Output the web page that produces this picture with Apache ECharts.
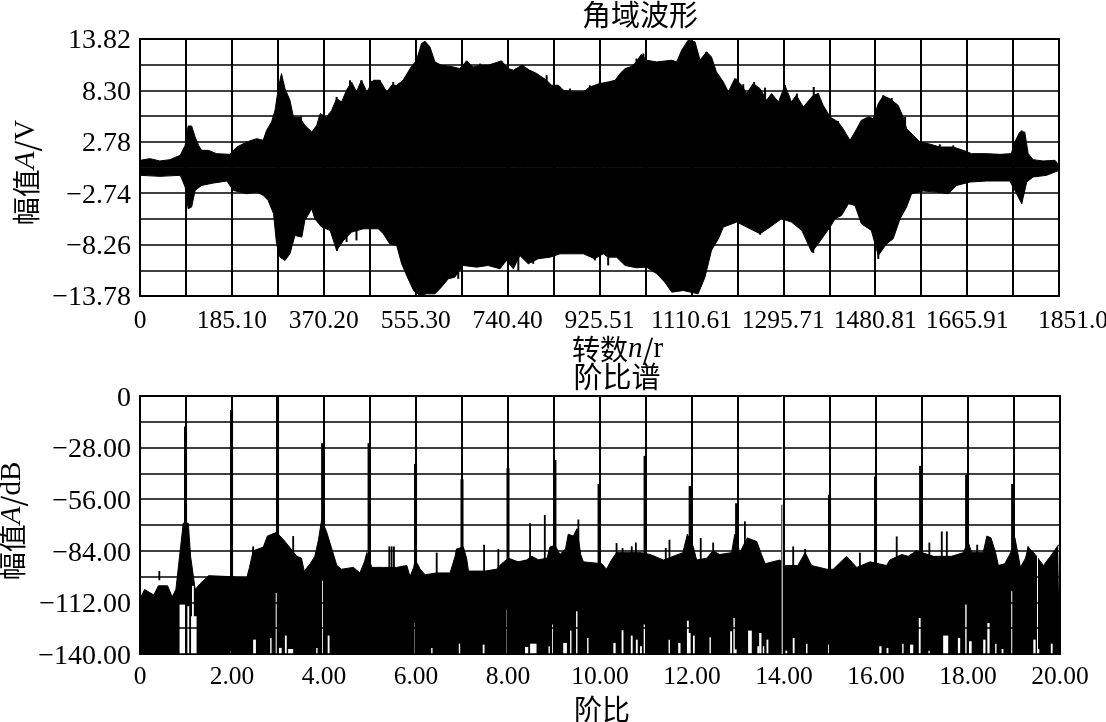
<!DOCTYPE html>
<html><head><meta charset="utf-8">
<style>html,body{margin:0;padding:0;background:#fff}#c{width:1106px;height:722px}</style>
<script src="https://cdn.jsdelivr.net/npm/echarts@6/dist/echarts.min.js"></script>
</head><body><div id="c"></div>
<script>
// Angle-domain waveform: upper and lower envelope
const waveUpperN=[0,20,40,60,81,91,97,104,111,118,124,138,154,181,195,215,235,248,255,265,272,279,285,292,302,309,322,332,346,356,363,376,386,396,406,416,426,436,446,457,470,483,497,507,517,530,544,557,567,574,584,594,607,631,644,658,671,685,701,728,742,752,769,785,799,819,829,843,853,873,893,906,926,943,957,967,977,987,997,1010,1020,1041,1071,1081,1091,1104,1118,1128,1141,1151,1161,1175,1185,1198,1212,1222,1235,1249,1262,1272,1286,1299,1312,1322,1336,1356,1366,1376,1390,1406,1416,1430,1440,1453,1467,1477,1487,1497,1510,1527,1537,1544,1561,1571,1588,1611,1638,1658,1675,1705,1732,1755,1762,1772,1782,1789,1799,1819,1843,1851];
const waveUpperV=[.79,.97,.72,.86,1.33,2.4,4.48,4.48,3.3,2.4,1.86,1.86,1.51,1.43,2.22,2.76,3.12,2.94,4.01,4.91,6.16,8.67,10.11,8.49,7.24,5.45,5.38,4.55,3.83,4.55,5.81,5.38,6.16,7.42,7.06,8.31,9.21,8.14,9.39,8.14,9.39,9.39,8.14,8.85,8.85,9.39,10.64,11.54,13.33,13.58,12.97,11.36,11,10.82,10.64,11.47,10.82,11,11,11.47,10.64,10.47,11,10.47,10.11,9.39,8.85,8.85,8.31,8.14,8.14,8.67,9.03,9.21,9.39,10.11,10.64,10.82,11.18,12.19,11.54,11.36,11.54,11.36,12.62,13.69,13.51,11.54,12.44,11.9,10.29,9.21,8.14,9.57,8.85,7.96,9.03,8.49,7.24,7.96,7.06,8.85,7.06,7.78,6.52,7.78,7.96,6.7,5.45,4.91,4.19,2.94,3.83,5.09,5.45,5.27,6.88,7.71,7.42,6.7,5.45,4.19,3.3,2.76,2.58,2.22,2.22,1.86,1.51,1.51,1.43,1.51,2.76,3.83,3.83,1.51,.86,.72,.79,.25];
const waveLowerN=[0,40,81,84,91,97,104,111,124,148,175,188,215,235,248,258,269,275,282,292,302,312,326,332,346,352,366,383,396,410,426,450,480,490,503,517,527,540,551,564,577,594,607,621,634,651,678,701,725,738,752,765,782,802,826,846,873,893,916,933,943,960,977,1000,1020,1041,1057,1071,1094,1124,1138,1151,1165,1175,1202,1222,1249,1269,1292,1312,1333,1353,1366,1390,1400,1413,1427,1440,1453,1473,1487,1504,1517,1531,1544,1554,1578,1604,1628,1645,1672,1705,1752,1762,1776,1786,1799,1826,1851];
const waveLowerV=[-.82,-.93,-.82,-1.18,-2.08,-4.41,-4.23,-2.44,-1.9,-1.65,-1.43,-2.44,-2.8,-2.62,-2.97,-3.51,-4.95,-8.17,-9.61,-9.96,-9.25,-7.28,-7.45,-5.66,-4.41,-5.48,-6.38,-6.74,-8.89,-7.81,-6.92,-6.56,-6.56,-7.1,-8.17,-8.35,-10.32,-11.93,-13.19,-13.73,-13.55,-13.55,-12.83,-11.93,-11.76,-10.5,-10.68,-10.5,-10.86,-9.96,-10.86,-9.43,-10.32,-9.78,-9.61,-9.25,-9.25,-9.25,-9.78,-9.25,-9.61,-9.61,-10.5,-10.75,-10.68,-11.4,-12.29,-13.37,-13.19,-13.55,-11.76,-8.89,-7.63,-6.38,-5.84,-6.38,-7.1,-6.38,-5.48,-5.84,-6.74,-9.07,-8.17,-6.38,-5.48,-5.13,-3.87,-4.05,-6.02,-6.74,-9.43,-8.17,-7.63,-5.48,-4.23,-2.8,-2.51,-2.62,-2.8,-1.9,-1.54,-1.43,-1.43,-2.44,-3.87,-1.54,-1,-.82,-.29];
// Narrow teeth on the waveform's edge
const toothUpN=[324,381,396,423,446,466,483,510,658,685,728,772,819,836,866,906,926,1000,1014,1141,1200,1215,1237,1259,1299,1323,1357,1366,1406,1497,1514,1541,1611,1638,1776];
const toothUpV=[5.52,5.81,7.6,9.39,9.39,9.32,9.39,9.21,11.47,11.18,11.47,11,9.93,8.85,8.5,8.85,9.2,11.72,12.26,12.44,9.57,8.96,9.21,8.6,8.85,7.96,8.67,7.96,5.02,7.78,7.49,5.45,2.51,2.4,4];
const toothDownN=[397,416,436,641,762,792,916,943,1249,1356,1487];
const toothDownV=[-8.96,-7.99,-7.81,-11.93,-11.1,-10.32,-9.96,-10.5,-7.2,-9.17,-9.8];
const waveXLabels=['0','185.10','370.20','555.30','740.40','925.51','1110.61','1295.71','1480.81','1665.91','1851.0'];
const waveYLabels=['−13.78','−8.26','−2.74','2.78','8.30','13.82'];

// Order spectrum: noise floor top, narrow side teeth, harmonic spikes, white gaps at the foot
const specOrder=[0,.1,.3,.4,.6,.7,.78,.86,.94,1.05,1.1,1.2,1.3,1.49,1.96,2.32,2.38,2.46,2.68,2.77,2.97,3.12,3.25,3.41,3.51,3.57,3.7,3.8,3.88,3.95,4.06,4.17,4.28,4.38,4.64,4.78,4.88,4.93,5,5.04,5.3,5.58,5.8,5.87,5.95,5.98,6.03,6.09,6.2,6.45,6.74,6.85,6.88,7.03,7.1,7.14,7.5,7.75,7.86,8.01,8.22,8.4,8.52,8.66,8.85,8.91,9.02,9.13,9.25,9.31,9.42,9.5,9.58,9.64,10.04,10.14,10.25,10.36,10.9,11.09,11.38,11.8,11.9,12.03,12.1,12.32,12.46,12.6,12.86,12.93,13.04,13.2,13.41,13.51,13.59,13.91,14.02,14.3,14.46,14.6,14.93,15.07,15.36,15.58,15.87,16.23,16.3,16.56,16.7,16.88,17.25,17.64,17.9,18,18.08,18.33,18.41,18.5,18.6,18.66,18.8,18.95,19.02,19.14,19.25,19.31,19.46,19.64,19.82,19.96,20];
const specTop=[-110,-105,-108,-103,-103,-109,-105,-87,-69,-69,-87,-105,-102,-97.5,-98,-98.8,-93,-84,-82,-76,-74,-78,-82,-87,-88,-95,-91,-87,-78,-67,-74,-83,-92,-94,-93,-96,-90,-85,-90,-93,-93,-93,-92,-98,-93,-89,-91,-94,-97,-96,-96,-87,-83,-82,-88,-95,-95,-94,-91,-88,-90,-89,-87,-88.9,-88,-82,-81,-86,-83,-75,-76,-72,-86,-90,-91,-94,-89,-85,-85,-86,-89,-85,-75,-82,-89,-88,-84,-86,-85,-75,-85,-77,-79,-86,-91,-89,-92,-92,-85,-92,-94,-94,-87,-93,-90,-92,-89,-86,-87,-84,-87,-87,-85,-79,-85,-85,-76,-77,-85,-92,-91,-84,-77,-93,-88,-82,-86,-92,-86,-81,-81];
const toothOrder=[.42,2.46,3.33,5.42,5.47,5.52,6.45,7.48,7.79,8.48,8.8,9.53,10.36,10.49,10.69,10.78,11.43,11.51,12.19,12.46,13.15,14.2,14.46,15.65,16.45,17.16,17.43,17.54,18.2,19.31];
const toothTop=[-95,-81.6,-76,-81.6,-81.6,-81.6,-85,-80.7,-83,-69,-64.5,-67,-79.8,-82.5,-81.6,-79.5,-82.5,-78,-77.1,-79.5,-68,-81.6,-83,-85,-76.2,-79.5,-73.5,-73.5,-80.7,-81.6];
const spikeOrder=[.99,1.99,2.99,3.97,4.98,5.99,7,8,9.02,9.98,10.98,11.96,12.97,13.97,14.99,15.99,16.97,17.97,18.97];
const spikeTop=[-16.6,-7.6,0,-25.6,-25.6,-36.8,-45.1,-39.2,-34.7,-47.7,-32.5,-48.8,-58.2,-59,-53.6,-43.7,-37.9,-42.8,-47.7];
const gapStart=[.86,1.03,1.11,1.13,1.97,2.46,2.83,2.95,3.01,3.15,3.22,3.83,3.96,4.08,5.97,6.33,6.93,7.45,7.97,8.37,8.48,8.88,8.96,9,9.2,9.35,9.48,9.72,10.29,10.47,10.67,10.78,10.87,10.95,11.49,11.7,11.89,11.91,12.01,12.38,12.83,12.9,12.92,13.22,13.42,13.46,13.54,13.62,13.99,14.03,14.19,14.48,14.96,16.07,16.23,16.57,16.74,16.93,17.14,17.46,17.78,17.94,18.01,18.33,18.42,18.59,18.73,18.94,19.42,19.5,19.51,19.8];
const gapEnd=[.98,1.07,1.23,1.17,1.98,2.52,2.86,2.97,3.08,3.19,3.33,3.86,3.97,4.12,5.99,6.36,6.96,7.49,8.01,8.44,8.62,8.91,9,9.01,9.28,9.38,9.51,9.75,10.34,10.51,10.71,10.82,10.91,10.99,11.52,11.75,11.93,11.97,12.06,12.41,12.87,12.93,12.97,13.3,13.46,13.51,13.57,13.66,14.01,14.07,14.23,14.51,15,16.12,16.27,16.6,16.81,16.97,17.17,17.57,17.83,17.97,18.08,18.38,18.47,18.62,18.77,18.96,19.47,19.51,19.55,19.84];
const gapTop=[-113.2,-114.1,-119.5,-103,-138.5,-132.2,-131.3,-106.9,-136.7,-130,-137.3,-136.7,-100.2,-130,-123.2,-136.7,-134.4,-134.9,-115.9,-136.2,-134.4,-135.8,-124,-88.9,-134,-127.3,-116.8,-131.3,-134,-127.1,-130,-132.2,-135.8,-124,-132.2,-134,-121.9,-128.6,-130,-130.9,-127.7,-120.5,-137.5,-127.3,-135.8,-128.6,-135.8,-132.2,-118.1,-138.2,-131.3,-134.4,-134.9,-135.8,-136.7,-134.4,-134.9,-120.5,-138.2,-130,-131.3,-113.2,-133.1,-132.2,-123.2,-134.4,-137.3,-106,-132.2,-85.2,-137.3,-134.4];
const whiteLineOrder=[13.95];
const specXLabels=['0','2.00','4.00','6.00','8.00','10.00','12.00','14.00','16.00','18.00','20.00'];
const specYLabels=['−140.00','−112.00','−84.00','−56.00','−28.00','0'];

const serif='"Liberation Serif","Times New Roman",serif';
const cjk='"Noto Sans CJK SC","Liberation Serif",serif';
const LABEL=25.5, YLABEL=28, NAME=28;
const italic={i:{fontFamily:serif,fontStyle:'italic',fontSize:NAME+1,color:'#000'},t:{fontFamily:serif,fontSize:NAME+1,color:'#000'}};
const grid=(t,h,w)=>({left:140,width:w,top:t,height:h,show:true,borderColor:'#000',borderWidth:2,backgroundColor:'#fff',containLabel:false,outerBoundsMode:'none'});
const vLine={show:true,lineStyle:{color:'#000',width:2}};
const hLine={show:true,lineStyle:{color:'#000',width:1.5}};
const lbl={color:'#000',fontFamily:serif,showMinLabel:true,showMaxLabel:true};
function xAxis(gi,max,interval,labels,name,nameGap,pad,shiftLast,margin){
  return {gridIndex:gi,type:'value',min:0,max,interval,z:5,
    axisLine:{show:false},axisTick:{show:false},splitLine:vLine,
    axisLabel:Object.assign({},lbl,{fontSize:LABEL,margin,hideOverlap:false,
      formatter:(v,idx)=>{
        if(idx%2) return '';
        const s=labels[idx/2];
        return (shiftLast&&idx/2===labels.length-1)?'{last|'+s+'}':s;
      },
      rich:{last:{fontFamily:serif,fontSize:LABEL,color:'#000',padding:[0,0,0,28]}}}),
    name,nameLocation:'middle',nameGap,
    nameTextStyle:{fontFamily:cjk,fontSize:NAME,color:'#000',padding:pad,rich:italic}};
}
function yAxis(gi,min,max,interval,labels,name,nameGap,pad,labelPad){
  return {gridIndex:gi,type:'value',min,max,interval,z:5,
    axisLine:{show:false,onZero:false},axisTick:{show:false},splitLine:hLine,
    axisLabel:Object.assign({},lbl,{fontSize:YLABEL,margin:9,
      formatter:(v,idx)=>idx%2?'':'{y|'+labels[idx/2]+'}',
      rich:{y:{fontFamily:serif,fontSize:YLABEL,color:'#000',padding:[labelPad,0,0,0]}}}),
    name,nameLocation:'middle',nameGap,nameRotate:90,
    nameTextStyle:{fontFamily:cjk,fontSize:NAME,color:'#000',padding:pad,rich:italic}};
}
const pairs=(a,b)=>a.map((v,i)=>[v,b[i]]);
const area=(xi,yi,data,origin)=>({type:'line',xAxisIndex:xi,yAxisIndex:yi,data,showSymbol:false,silent:true,animation:false,
  lineStyle:{color:'#000',width:1},itemStyle:{color:'#000'},areaStyle:{color:'#000',opacity:1,origin},z:2});
const rects=(ai,data,color,z)=>({type:'custom',xAxisIndex:ai,yAxisIndex:ai,data,silent:true,animation:false,z,clip:true,
  renderItem(p,api){
    const a=api.coord([api.value(0),api.value(2)]), b=api.coord([api.value(1),api.value(3)]);
    return {type:'rect',shape:{x:a[0],y:Math.min(a[1],b[1]),width:Math.max(1,b[0]-a[0]),height:Math.abs(b[1]-a[1])},style:{fill:color}};
  }});
// the top plot's axis is centred on 0.02 V, so values are plotted relative to that centre
const centre=0.02;
const chart=echarts.init(document.getElementById('c'),null,{renderer:'canvas'});
chart.setOption({
  animation:false,backgroundColor:'#fff',
  title:[
    {text:'角域波形',left:635,top:-5,textAlign:'center',textStyle:{fontFamily:cjk,fontSize:NAME+1,fontWeight:'normal',color:'#000'}},
    {text:'阶比谱',left:612,top:357,textAlign:'center',textStyle:{fontFamily:cjk,fontSize:NAME+1,fontWeight:'normal',color:'#000'}}
  ],
  grid:[grid(39,257,919),grid(396,258,920)],
  xAxis:[
    xAxis(0,1851,92.55,waveXLabels,'转数{i|n}/{t|r}',29,[0,0,0,36],true,12),
    xAxis(1,20,1,specXLabels,'阶比',41,[0,0,0,4],false,10)
  ],
  yAxis:[
    yAxis(0,-13.8,13.8,2.76,waveYLabels,'幅值{i|A}/{t|V}',82,[0,10,0,0],4),
    yAxis(1,-140,0,14,specYLabels,'幅值{i|A}/{t|dB}',111,[0,0,0,8],5)
  ],
  series:[
    area(0,0,waveUpperN.map((n,i)=>[n,waveUpperV[i]-centre]),'auto'),
    area(0,0,waveLowerN.map((n,i)=>[n,waveLowerV[i]-centre]),'auto'),
    rects(0,toothUpN.map((n,i)=>[n-2,n+2,toothUpV[i]-centre,0]),'#000',3),
    rects(0,toothDownN.map((n,i)=>[n-2,n+2,0,toothDownV[i]-centre]),'#000',3),
    area(1,1,pairs(specOrder,specTop),'start'),
    rects(1,toothOrder.map((o,i)=>[o-.02,o+.02,toothTop[i],-100]),'#000',3),
    rects(1,spikeOrder.map((o,i)=>[o-.033,o+.033,spikeTop[i],-100]),'#000',3),
    rects(1,gapStart.map((s,i)=>[s,gapEnd[i],gapTop[i],-140]),'#fff',4),
    rects(1,whiteLineOrder.map(o=>[o,o+.02,0,-140]),'#fff',20)
  ]
});
</script></body></html>
